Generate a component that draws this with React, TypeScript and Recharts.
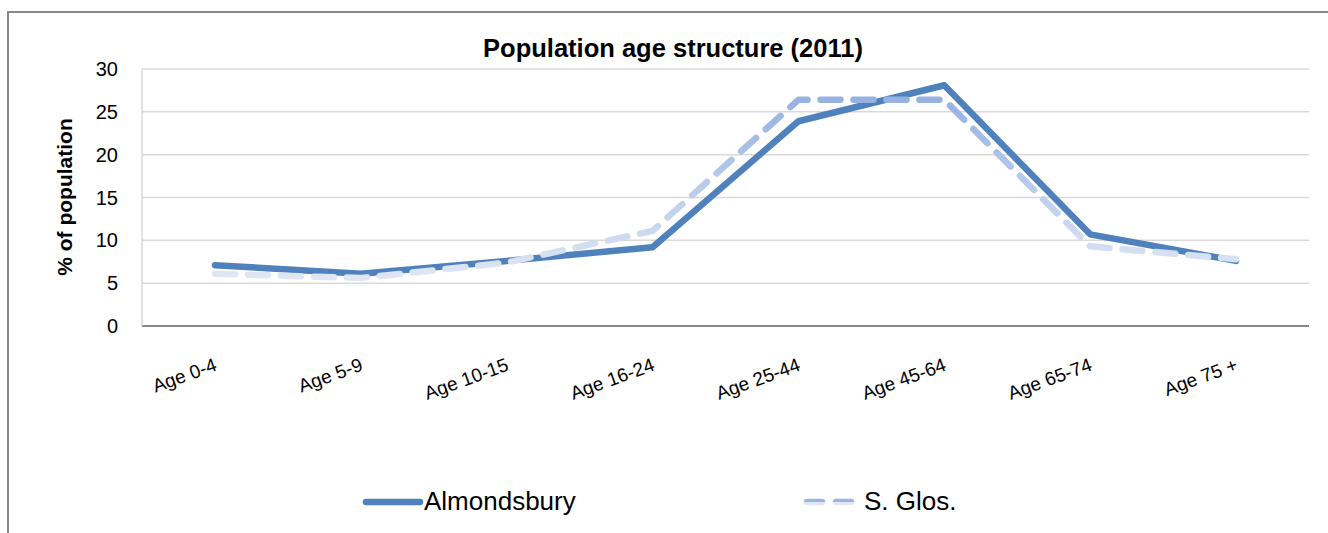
import { LineChart, Line, XAxis, YAxis, CartesianGrid } from 'recharts';

const ageGroups = ['Age 0-4', 'Age 5-9', 'Age 10-15', 'Age 16-24', 'Age 25-44', 'Age 45-64', 'Age 65-74', 'Age 75 +'];
const almondsbury = [7.1, 6.1, 7.6, 9.2, 23.9, 28.1, 10.7, 7.6];
const sGlos = [6.1, 5.6, 7.4, 11.1, 26.4, 26.4, 9.3, 7.8];
const yTicks = [0, 5, 10, 15, 20, 25, 30];

const data = ageGroups.map((group, i) => ({
  group,
  almondsbury: almondsbury[i],
  sGlos: sGlos[i],
}));

const FONT = 'Liberation Sans, Arial, sans-serif';

function AgeTick({ x, y, payload }: any) {
  const ax = x + 3;
  const ay = y + 42;
  return (
    <text
      x={ax}
      y={ay}
      transform={`rotate(-20 ${ax} ${ay})`}
      textAnchor="end"
      fontSize={19}
      fontFamily={FONT}
      fill="#000"
    >
      {payload.value}
    </text>
  );
}

export default function App() {
  return (
    <div
      style={{
        position: 'absolute',
        left: 0,
        top: 0,
        width: 1328,
        height: 533,
        overflow: 'hidden',
        background: '#fff',
        fontFamily: FONT,
      }}
    >
      <div
        style={{
          position: 'absolute',
          left: 7,
          top: 11,
          width: 1340,
          height: 540,
          borderTop: '2px solid #888',
          borderLeft: '2px solid #888',
        }}
      />
      <div
        style={{
          position: 'absolute',
          left: 0,
          top: 33,
          width: 1346,
          textAlign: 'center',
          fontSize: 25.5,
          fontWeight: 'bold',
          lineHeight: '30px',
        }}
      >
        Population age structure (2011)
      </div>
      <div
        style={{
          position: 'absolute',
          left: 65,
          top: 197,
          transform: 'translate(-50%, -50%) rotate(-90deg)',
          whiteSpace: 'nowrap',
          fontSize: 21,
          fontWeight: 'bold',
        }}
      >
        % of population
      </div>
      <svg width={0} height={0} style={{ position: 'absolute' }}>
        <defs>
          <linearGradient id="glosLegend" x1="0" y1="0" x2="0" y2="1">
            <stop offset="0" stopColor="#9bb5e2" />
            <stop offset="1" stopColor="#dfe7f4" />
          </linearGradient>
        </defs>
      </svg>
      <div style={{ position: 'absolute', left: 0, top: 0 }}>
        <LineChart
          width={1328}
          height={533}
          data={data}
          margin={{ top: 69, right: 19, bottom: 127, left: 82 }}
        >
          <defs>
            <linearGradient id="glosStroke" x1="0" y1="0" x2="0" y2="1">
              <stop offset="0" stopColor="#96b2e1" />
              <stop offset="1" stopColor="#dfe7f4" />
            </linearGradient>
          </defs>
          <CartesianGrid vertical={false} stroke="#d9d9d9" strokeWidth={1.5} />
          <XAxis
            dataKey="group"
            height={80}
            tickLine={false}
            tickSize={0}
            padding={{ left: 73, right: 73 }}
            axisLine={{ stroke: '#868686', strokeWidth: 2 }}
            tick={<AgeTick />}
            interval={0}
          />
          <YAxis
            width={60}
            domain={[0, 30]}
            ticks={yTicks}
            tickLine={false}
            tickSize={0}
            tickMargin={24}
            axisLine={{ stroke: '#d9d9d9', strokeWidth: 1.5 }}
            tick={{ fontSize: 20, fill: '#000', fontFamily: FONT }}
          />
          <Line
            dataKey="almondsbury"
            stroke="#4f81bd"
            strokeWidth={6.5}
            strokeLinecap="round"
            strokeLinejoin="round"
            dot={false}
            isAnimationActive={false}
          />
          <Line
            dataKey="sGlos"
            stroke="url(#glosStroke)"
            strokeWidth={6.5}
            strokeDasharray="20 13"
            strokeLinecap="round"
            strokeLinejoin="round"
            dot={false}
            isAnimationActive={false}
          />
        </LineChart>
      </div>
      <div
        style={{
          position: 'absolute',
          left: 362,
          top: 486,
          display: 'flex',
          alignItems: 'center',
          fontSize: 26,
        }}
      >
        <svg width={62} height={30}>
          <line x1={4} y1={15} x2={58} y2={15} stroke="#4f81bd" strokeWidth={6.5} strokeLinecap="round" />
        </svg>
        <span>Almondsbury</span>
      </div>
      <div
        style={{
          position: 'absolute',
          left: 802,
          top: 486,
          display: 'flex',
          alignItems: 'center',
          fontSize: 26,
        }}
      >
        <svg width={62} height={30}>
          <line x1={5} y1={15} x2={57} y2={15.01} stroke="url(#glosLegend)" strokeWidth={6.5} strokeDasharray="15 14" strokeLinecap="round" />
        </svg>
        <span>S. Glos.</span>
      </div>
    </div>
  );
}
